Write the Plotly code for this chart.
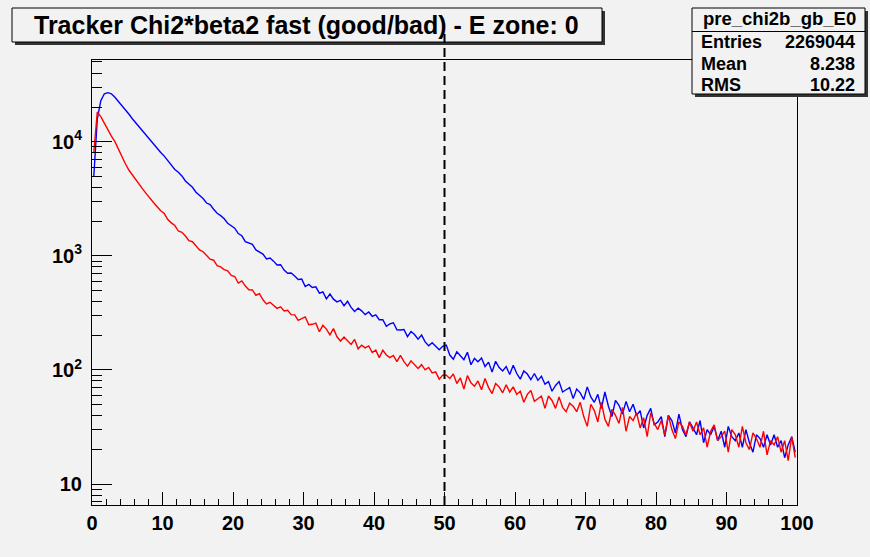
import plotly.graph_objects as go

# ---------------- data ----------------
BIN_WIDTH = 0.5
X_MIN, X_MAX = 0, 100

blue_counts = [
    4900, 15800, 22900, 26300, 26900, 26300, 24500, 22600, 20900, 19100,
    17400, 15800, 14500, 13300, 12300, 11200, 10200, 9440, 8710, 8040,
    7480, 6820, 6330, 5710, 5390, 5010, 4530, 4280, 3990, 3610,
    3420, 3180, 2900, 2810, 2560, 2360, 2250, 2110, 1930, 1850,
    1748, 1567, 1498, 1330, 1295, 1259, 1127, 1076, 1036, 938,
    955, 898, 831, 836, 750, 704, 706, 664, 621, 625,
    538, 562, 527, 534, 470, 482, 419, 462, 417, 395,
    407, 365, 399, 353, 325, 348, 329, 305, 322, 295,
    304, 275, 275, 241, 253, 259, 225, 224, 226, 196,
    217, 204, 186, 202, 176, 163, 173, 161, 150, 161,
    165, 135, 124, 144, 134, 123, 143, 111, 126, 118,
    127, 107, 117, 96, 119, 105, 98, 107, 91, 110,
    93, 83, 98, 92, 82, 93, 81, 88, 75, 79,
    65, 73, 79, 64, 67, 70, 56, 68, 63, 55,
    71, 58, 52, 61, 46, 64, 48, 39, 54, 49,
    41, 53, 43, 50, 40, 44, 31, 40, 46, 33,
    35, 39, 26, 40, 36, 28, 41, 30, 26, 35,
    31, 27, 36, 23, 30, 27, 32, 24, 29, 21,
    32, 26, 24, 28, 21, 30, 23, 19, 27, 25,
    21, 27, 22, 27, 21, 24, 17, 22, 26, 19,
]

red_counts = [
    7940, 18200, 16600, 14500, 12600, 11200, 10000, 8510, 7240, 6380,
    5620, 5070, 4570, 4170, 3800, 3470, 3160, 2920, 2690, 2480,
    2345, 2078, 1944, 1842, 1649, 1608, 1489, 1355, 1329, 1209,
    1126, 1086, 1003, 933, 915, 821, 799, 757, 737, 674,
    658, 577, 603, 543, 504, 502, 451, 466, 412, 379,
    391, 371, 346, 357, 329, 333, 305, 304, 272, 281,
    291, 249, 251, 257, 216, 246, 228, 203, 230, 195,
    179, 194, 180, 167, 185, 153, 165, 156, 162, 142,
    149, 128, 149, 135, 128, 134, 118, 134, 118, 108,
    120, 112, 103, 111, 100, 105, 94, 96, 83, 90,
    90, 84, 92, 76, 85, 68, 89, 77, 72, 80,
    67, 84, 70, 62, 76, 71, 63, 74, 64, 71,
    61, 65, 52, 61, 66, 53, 56, 59, 46, 59,
    54, 46, 58, 47, 43, 51, 48, 43, 52, 39,
    32, 50, 44, 35, 52, 37, 32, 45, 40, 34,
    47, 29, 39, 36, 42, 31, 38, 26, 42, 34,
    30, 36, 27, 40, 30, 25, 35, 32, 27, 35,
    29, 35, 27, 31, 21, 29, 33, 24, 26, 29,
    19, 30, 27, 21, 32, 23, 20, 28, 25, 21,
    29, 18, 24, 22, 26, 19, 24, 16, 26, 17,
]

x_tick_vals = [0, 10, 20, 30, 40, 50, 60, 70, 80, 90, 100]
y_tick_vals = [10, 100, 1000, 10000]
y_tick_text = ["10", "10<sup>2</sup>", "10<sup>3</sup>", "10<sup>4</sup>"]
y_minor_vals = [m * 10 ** k for k in range(0, 5) for m in range(2, 10)]

CUT_VALUE = 50
TITLE = "Tracker Chi2*beta2 fast (good/bad) - E zone: 0"
STATS_NAME = "pre_chi2b_gb_E0"
STATS_ROWS = [("Entries", "2269044"), ("Mean", "8.238"), ("RMS", "10.22")]

# ---------------- figure ----------------
W, H = 870, 557
ML, MR, MT, MB = 92, 73, 60, 52
BG = "#f2f2f2"
FONT = "Liberation Sans, Arial, Helvetica, sans-serif"

x_centers = [X_MIN + BIN_WIDTH * (i + 0.5) for i in range(len(blue_counts))]

fig = go.Figure()
fig.add_trace(go.Scatter(x=x_centers, y=blue_counts, mode="lines",
                         line=dict(color="#0000ff", width=1.4), showlegend=False))
fig.add_trace(go.Scatter(x=x_centers, y=red_counts, mode="lines",
                         line=dict(color="#ff0000", width=1.4), showlegend=False))

pw = W - ML - MR
ph = H - MT - MB


def px(xp):
    return (xp - ML) / pw


def py(yp):
    return (H - MB - yp) / ph


shapes = []
# title pave: shadow + box
shapes.append(dict(type="rect", xref="paper", yref="paper",
                   x0=px(15), x1=px(605), y0=py(45), y1=py(11),
                   fillcolor="#333333", line=dict(width=0)))
shapes.append(dict(type="rect", xref="paper", yref="paper",
                   x0=px(12), x1=px(602), y0=py(42), y1=py(8),
                   fillcolor=BG, line=dict(color="#000000", width=1)))
# stats pave: shadow + box + separator
shapes.append(dict(type="rect", xref="paper", yref="paper",
                   x0=px(695), x1=px(868), y0=py(97), y1=py(11),
                   fillcolor="#333333", line=dict(width=0)))
shapes.append(dict(type="rect", xref="paper", yref="paper",
                   x0=px(692), x1=px(865), y0=py(94), y1=py(8),
                   fillcolor=BG, line=dict(color="#000000", width=1)))
shapes.append(dict(type="line", xref="paper", yref="paper",
                   x0=px(692), x1=px(865), y0=py(31.5), y1=py(31.5),
                   line=dict(color="#000000", width=1)))
# dashed cut line at x = 50
shapes.append(dict(type="line", xref="x", yref="paper",
                   x0=CUT_VALUE, x1=CUT_VALUE, y0=0, y1=py(29),
                   line=dict(color="#000000", width=2, dash="9px,5px")))

annotations = [
    dict(text=TITLE, xref="paper", yref="paper", x=px(306), y=py(25),
         xanchor="center", yanchor="middle", showarrow=False,
         font=dict(family=FONT, size=25, color="#000000", weight="bold")),
    dict(text=STATS_NAME, xref="paper", yref="paper", x=px(779), y=py(19),
         xanchor="center", yanchor="middle", showarrow=False,
         font=dict(family=FONT, size=18.5, color="#000000", weight="bold")),
]
row_y = [42, 63.5, 85.5]
for (lab, val), yy in zip(STATS_ROWS, row_y):
    annotations.append(dict(text=lab, xref="paper", yref="paper", x=px(699), y=py(yy),
                            xanchor="left", yanchor="middle", showarrow=False,
                            font=dict(family=FONT, size=18, color="#000000", weight="bold")))
    annotations.append(dict(text=val, xref="paper", yref="paper", x=px(857), y=py(yy),
                            xanchor="right", yanchor="middle", showarrow=False,
                            font=dict(family=FONT, size=18, color="#000000", weight="bold")))

fig.update_layout(
    width=W, height=H,
    margin=dict(l=ML, r=MR, t=MT, b=MB, pad=0),
    paper_bgcolor=BG, plot_bgcolor=BG,
    shapes=shapes, annotations=annotations,
    xaxis=dict(range=[X_MIN, X_MAX], tickvals=x_tick_vals,
               ticks="inside", ticklen=13, tickwidth=1, tickcolor="#000000",
               minor=dict(dtick=2, tick0=0, ticks="inside", ticklen=6,
                          tickwidth=1, tickcolor="#000000", showgrid=False),
               showline=True, linecolor="#000000", linewidth=1, mirror=True,
               showgrid=False, zeroline=False,
               tickfont=dict(family=FONT, size=20, color="#000000", weight="bold")),
    yaxis=dict(type="log", range=[0.816, 4.716],
               tickvals=y_tick_vals, ticktext=y_tick_text,
               ticks="inside", ticklen=20, tickwidth=1, tickcolor="#000000",
               ticklabelstandoff=5,
               minor=dict(tickvals=y_minor_vals, ticks="inside", ticklen=10,
                          tickwidth=1, tickcolor="#000000", showgrid=False),
               showline=True, linecolor="#000000", linewidth=1, mirror=True,
               showgrid=False, zeroline=False,
               tickfont=dict(family=FONT, size=20, color="#000000", weight="bold")),
)

fig.write_html("out.html")
